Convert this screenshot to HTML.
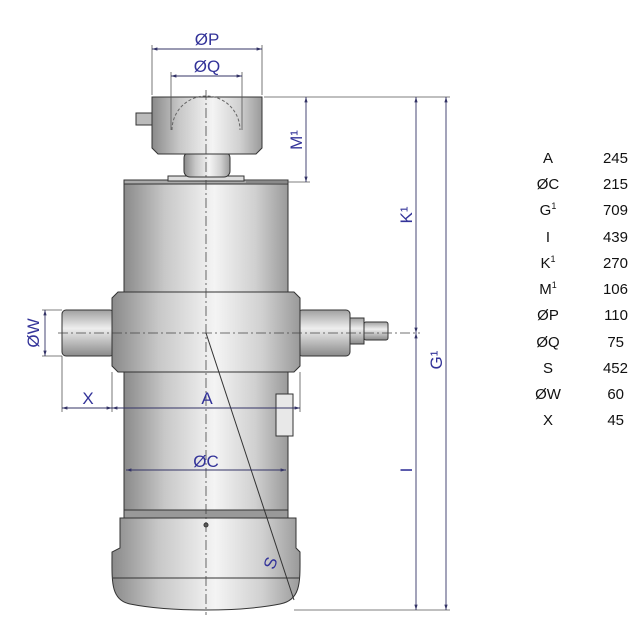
<!DOCTYPE html>
<html><head><style>
html,body{margin:0;padding:0;background:#fff;}
svg{display:block;}
text{font-family:"Liberation Sans",sans-serif;}
</style></head><body>
<svg width="640" height="640" viewBox="0 0 640 640" xmlns="http://www.w3.org/2000/svg">
<defs>
<linearGradient id="g" x1="0" x2="1" y1="0" y2="0">
<stop offset="0" stop-color="#8a8a8a"/><stop offset="0.25" stop-color="#c8c8c8"/><stop offset="0.55" stop-color="#f4f4f4"/><stop offset="0.8" stop-color="#d0d0d0"/><stop offset="1" stop-color="#9a9a9a"/>
</linearGradient>
<linearGradient id="gv" x1="0" x2="0" y1="0" y2="1">
<stop offset="0" stop-color="#a0a0a0"/><stop offset="0.4" stop-color="#eeeeee"/><stop offset="1" stop-color="#8a8a8a"/>
</linearGradient>
<marker id="ar" viewBox="0 0 10 10" refX="10" refY="5" markerWidth="6" markerHeight="6" orient="auto-start-reverse"><path d="M0,2 L10,5 L0,8z" fill="#333366"/></marker>
</defs>
<g stroke="#333" stroke-width="1">
<rect x="62" y="310" width="52" height="46" rx="4" fill="url(#gv)"/>
<rect x="298" y="310" width="52" height="46" rx="4" fill="url(#gv)"/>
<rect x="350" y="318" width="14" height="26" fill="url(#gv)"/>
<rect x="364" y="322" width="24" height="18" rx="2" fill="url(#gv)"/>
<rect x="124" y="370" width="164" height="143" fill="url(#g)"/>
<rect x="124" y="510" width="164" height="8" fill="#999"/>
<path d="M120,518 H296 V548 L300,552 C300,580 302,600 280,604 C240,612 170,612 130,604 C110,600 112,580 112,552 L120,548 Z" fill="url(#g)"/>
<line x1="113" y1="578" x2="299" y2="578"/>
<path d="M118,292 H294 L300,298 V366 L294,372 H118 L112,366 V298 Z" fill="url(#g)"/>
<rect x="124" y="182" width="164" height="110" fill="url(#g)"/>
<rect x="124" y="180" width="164" height="4" fill="#aaa"/>
<rect x="168" y="176" width="76" height="5" fill="#ddd"/>
<rect x="184" y="152" width="46" height="25" rx="6" fill="url(#g)"/>
<path d="M152,97 H262 V148 L256,154 H158 L152,148 Z" fill="url(#g)"/>
<rect x="136" y="113" width="16" height="12" fill="#bbb"/>
<path d="M172,130 A34,34 0 0 1 240,130" fill="none" stroke="#666" stroke-dasharray="3,2"/>
<rect x="276" y="394" width="17" height="42" fill="#e8e8e8"/>
<circle cx="206" cy="525" r="2" fill="#666"/>
</g>
<line x1="206" y1="90" x2="206" y2="615" stroke="#444" stroke-width="0.8" stroke-dasharray="10,3,2,3"/>
<line x1="58" y1="333" x2="420" y2="333" stroke="#444" stroke-width="0.8" stroke-dasharray="10,3,2,3"/>
<line x1="206" y1="333" x2="294" y2="600" stroke="#333" stroke-width="1"/>
<g stroke="#555" stroke-width="0.8" fill="none">
<line x1="152" y1="95" x2="152" y2="45"/><line x1="262" y1="95" x2="262" y2="45"/>
<line x1="171" y1="130" x2="171" y2="72"/><line x1="242" y1="130" x2="242" y2="72"/>
<line x1="264" y1="97" x2="450" y2="97"/><line x1="246" y1="182" x2="310" y2="182"/>
<line x1="294" y1="610" x2="450" y2="610"/>
<line x1="62" y1="356" x2="62" y2="412"/><line x1="112" y1="372" x2="112" y2="412"/><line x1="300" y1="372" x2="300" y2="412"/>
<line x1="42" y1="310" x2="62" y2="310"/><line x1="42" y1="356" x2="62" y2="356"/>
</g>
<g stroke="#333366" stroke-width="0.9" marker-start="url(#ar)" marker-end="url(#ar)">
<line x1="152" y1="49" x2="262" y2="49"/>
<line x1="171" y1="76" x2="242" y2="76"/>
<line x1="306" y1="97" x2="306" y2="182"/>
<line x1="416" y1="97" x2="416" y2="333"/>
<line x1="416" y1="333" x2="416" y2="610"/>
<line x1="446" y1="97" x2="446" y2="610"/>
<line x1="62" y1="408" x2="112" y2="408"/>
<line x1="112" y1="408" x2="300" y2="408"/>
<line x1="126" y1="470" x2="286" y2="470"/>
<line x1="45" y1="310" x2="45" y2="356"/>
</g>
<g fill="#333399" font-size="17">
<text x="207" y="45" text-anchor="middle">ØP</text>
<text x="207" y="72" text-anchor="middle">ØQ</text>
<text x="207" y="404" text-anchor="middle">A</text>
<text x="88" y="404" text-anchor="middle">X</text>
<text x="206" y="467" text-anchor="middle">ØC</text>
<text transform="translate(302,140) rotate(-90)" text-anchor="middle">M¹</text>
<text transform="translate(412,215) rotate(-90)" text-anchor="middle">K¹</text>
<text transform="translate(442,360) rotate(-90)" text-anchor="middle">G¹</text>
<text transform="translate(412,470) rotate(-90)" text-anchor="middle">I</text>
<text transform="translate(39,333) rotate(-90)" text-anchor="middle">ØW</text>
<text transform="translate(276,565) rotate(-70)" text-anchor="middle">S</text>
</g>
<g font-size="15" fill="#111">
<g text-anchor="middle">
<text x="548" y="163">A</text><text x="548" y="189">ØC</text><text x="548" y="215">G<tspan font-size="9" dy="-6">1</tspan></text>
<text x="548" y="242">I</text><text x="548" y="268">K<tspan font-size="9" dy="-6">1</tspan></text><text x="548" y="294">M<tspan font-size="9" dy="-6">1</tspan></text>
<text x="548" y="320">ØP</text><text x="548" y="347">ØQ</text><text x="548" y="373">S</text><text x="548" y="399">ØW</text><text x="548" y="425">X</text>
</g>
<g text-anchor="end">
<text x="628" y="163">245</text><text x="628" y="189">215</text><text x="628" y="215">709</text><text x="628" y="242">439</text><text x="628" y="268">270</text><text x="628" y="294">106</text><text x="628" y="320">110</text><text x="624" y="347">75</text><text x="628" y="373">452</text><text x="624" y="399">60</text><text x="624" y="425">45</text>
</g>
</g>
</svg>
</body></html>
